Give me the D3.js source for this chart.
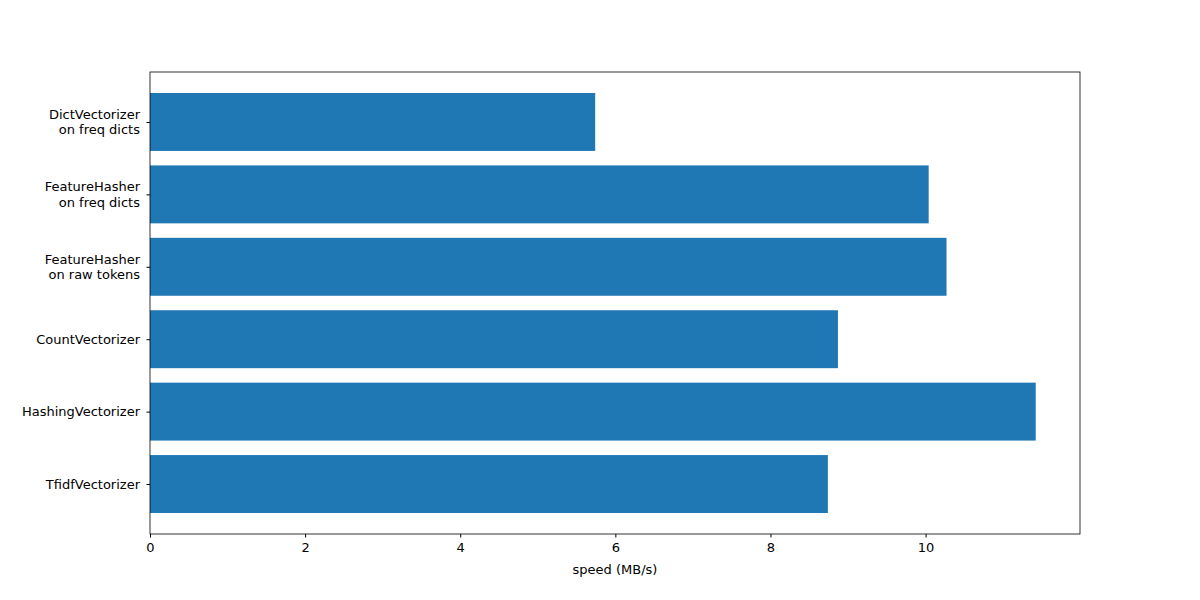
<!DOCTYPE html>
<html>
<head>
<meta charset="utf-8">
<script src="https://cdn.jsdelivr.net/npm/d3@7"></script>
<style>
  body { margin: 0; background: #fff; }
  text { font-family: "DejaVu Sans", sans-serif; }
</style>
</head>
<body>
<svg id="chart" width="1200" height="600"></svg>
<script>
const categories = [
  ["DictVectorizer", "on freq dicts"],
  ["FeatureHasher", "on freq dicts"],
  ["FeatureHasher", "on raw tokens"],
  ["CountVectorizer"],
  ["HashingVectorizer"],
  ["TfidfVectorizer"]
];
const speeds = [5.74, 10.04, 10.27, 8.87, 11.42, 8.74];
const xTicks = [0, 2, 4, 6, 8, 10];

const margin = { top: 72, right: 120, bottom: 66, left: 150 };
const width = 1200 - margin.left - margin.right;
const height = 600 - margin.top - margin.bottom;

const svg = d3.select('#chart');
const g = svg.append('g').attr('transform', `translate(${margin.left},${margin.top})`);

const xMax = d3.max(speeds) * 1.05;
const x = d3.scaleLinear().domain([0, xMax]).range([0, width]);
const n = categories.length;
const pad = (n - 1 + 0.8) * 0.05;
const y = d3.scaleLinear().domain([-0.4 - pad, n - 1 + 0.4 + pad]).range([0, height]);

g.selectAll('rect.bar').data(speeds).join('rect')
  .attr('class', 'bar')
  .attr('x', x(0))
  .attr('y', (d, i) => y(i - 0.4))
  .attr('width', d => x(d) - x(0))
  .attr('height', y(0.4) - y(-0.4))
  .attr('fill', '#1f77b4');

// x axis
const xAxis = g.append('g')
  .attr('transform', `translate(0,${height})`)
  .call(d3.axisBottom(x).tickValues(xTicks).tickSize(3.5).tickPadding(5).tickFormat(d3.format('d')));
xAxis.select('.domain').remove();
xAxis.selectAll('text').style('font-size', '13px').attr('fill', '#000');
xAxis.selectAll('line').attr('stroke', '#000');

// y axis
const yAxis = g.append('g')
  .call(d3.axisLeft(y).tickValues(d3.range(n)).tickSize(3.5).tickFormat(''));
yAxis.select('.domain').remove();
yAxis.selectAll('line').attr('stroke', '#000');

categories.forEach((lines, i) => {
  const t = g.append('text')
    .attr('x', -10)
    .attr('y', y(i))
    .attr('text-anchor', 'end')
    .style('font-size', '13px')
    .attr('fill', '#000');
  const offset = -(lines.length - 1) * 0.6;
  lines.forEach((l, j) => {
    t.append('tspan')
      .attr('x', -10)
      .attr('dy', j === 0 ? `${offset + 0.35}em` : '1.2em')
      .text(l);
  });
});

// frame
g.append('rect')
  .attr('width', width).attr('height', height)
  .attr('fill', 'none').attr('stroke', '#000').attr('stroke-width', 0.8);

g.append('text')
  .attr('x', width / 2)
  .attr('y', height + 40)
  .attr('text-anchor', 'middle')
  .style('font-size', '13px')
  .text('speed (MB/s)');
</script>
</body>
</html>
